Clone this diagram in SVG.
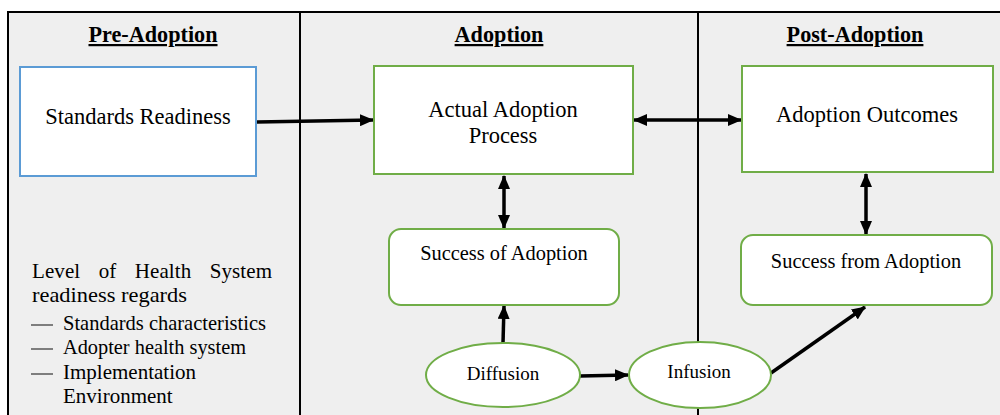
<svg xmlns="http://www.w3.org/2000/svg" width="1000" height="415" viewBox="0 0 1000 415">
<style>
text{font-family:'Liberation Serif','DejaVu Serif',serif;fill:#000}
.h{font-size:22.2px;font-weight:bold;text-decoration:underline;text-anchor:middle}
.n{font-size:22.5px;text-anchor:middle}
.s{font-size:20.4px;text-anchor:middle}
.e{font-size:19px;text-anchor:middle}
.l{font-size:21px}
.blue{fill:#fff;stroke:#5b9bd5;stroke-width:2}
.green{fill:#fff;stroke:#70ad47;stroke-width:2}
.c{stroke:#000;stroke-width:3.5;fill:none}
.d{stroke:#000;stroke-width:2;fill:none}
</style>
<defs>
<marker id="ah" markerUnits="userSpaceOnUse" markerWidth="14" markerHeight="12" refX="13" refY="6" orient="auto-start-reverse">
<path d="M0,0 L14,6 L0,12 Z" fill="#000"/>
</marker>
</defs>
<rect width="1000" height="415" fill="#fff"/>
<g id="frame">
<rect x="8" y="12" width="1000" height="420" fill="#efefef" stroke="#000" stroke-width="2"/>
<line class="d" x1="300" y1="12" x2="300" y2="415"/>
<line class="d" x1="698" y1="12" x2="698" y2="415"/>
<text class="h" x="153" y="42">Pre-Adoption</text>
<text class="h" x="499" y="42">Adoption</text>
<text class="h" x="855" y="42">Post-Adoption</text>
</g>
<g id="connectors">
<line class="c" x1="257" y1="122" x2="373" y2="120" marker-end="url(#ah)"/>
<line class="c" x1="634" y1="120" x2="741" y2="120" marker-start="url(#ah)" marker-end="url(#ah)"/>
<line class="c" x1="504" y1="176" x2="504" y2="228" marker-start="url(#ah)" marker-end="url(#ah)"/>
<line class="c" x1="866" y1="174" x2="866" y2="234" marker-start="url(#ah)" marker-end="url(#ah)"/>
<line class="c" x1="503" y1="343" x2="504" y2="306" marker-end="url(#ah)"/>
<line class="c" x1="580" y1="376" x2="628" y2="375" marker-end="url(#ah)"/>
<line class="c" x1="771" y1="373" x2="865" y2="307" marker-end="url(#ah)"/>
</g>
<g id="standards-readiness">
<rect class="blue" x="20" y="67" width="236" height="109"/>
<text class="n" x="138" y="124">Standards Readiness</text>
</g>
<g id="actual-adoption-process">
<rect class="green" x="374" y="66" width="259" height="108"/>
<text class="n" x="503" y="117">Actual Adoption</text>
<text class="n" x="503" y="143">Process</text>
</g>
<g id="adoption-outcomes">
<rect class="green" x="742" y="66" width="251" height="106"/>
<text class="n" x="867" y="122">Adoption Outcomes</text>
</g>
<g id="success-of-adoption">
<rect class="green" x="389" y="229" width="230" height="76" rx="12"/>
<text class="s" x="504" y="260">Success of Adoption</text>
</g>
<g id="success-from-adoption">
<rect class="green" x="741" y="235" width="251" height="70" rx="12"/>
<text class="s" x="866" y="268">Success from Adoption</text>
</g>
<g id="diffusion">
<ellipse class="green" cx="503" cy="375" rx="77" ry="32"/>
<text class="e" x="503" y="380">Diffusion</text>
</g>
<g id="infusion">
<ellipse class="green" cx="700" cy="375" rx="71" ry="33"/>
<text class="e" x="699" y="378">Infusion</text>
</g>
<g id="readiness-notes">
<text class="l" x="32" y="278" textLength="240" lengthAdjust="spacing" word-spacing="13">Level of Health System</text>
<text class="l" x="32" y="302" textLength="155" lengthAdjust="spacingAndGlyphs">readiness regards</text>
<line x1="31" y1="325" x2="53" y2="325" stroke="#333" stroke-width="1.2"/>
<text class="l" x="63" y="330" textLength="203" lengthAdjust="spacingAndGlyphs">Standards characteristics</text>
<line x1="31" y1="349" x2="53" y2="349" stroke="#333" stroke-width="1.2"/>
<text class="l" x="63" y="354" textLength="183" lengthAdjust="spacingAndGlyphs">Adopter health system</text>
<line x1="31" y1="374" x2="53" y2="374" stroke="#333" stroke-width="1.2"/>
<text class="l" x="63" y="379">Implementation</text>
<text class="l" x="63" y="403">Environment</text>
</g>
</svg>
